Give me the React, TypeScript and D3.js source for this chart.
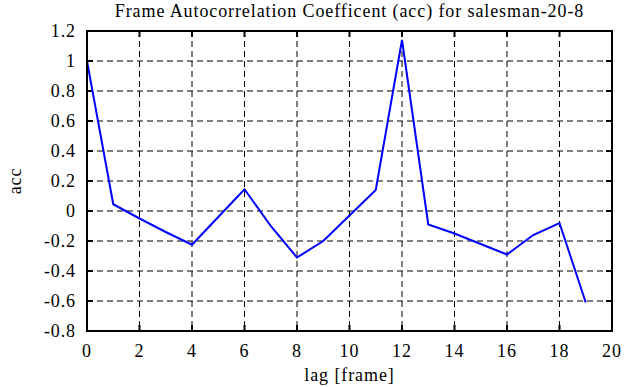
import React from "react";
import * as d3 from "d3";

const lags = [0, 1, 2, 3, 4, 5, 6, 7, 8, 9, 10, 11, 12, 13, 14, 15, 16, 17, 18, 19];
const accValues = [1.0, 0.045, -0.05, -0.14, -0.225, -0.04, 0.145, -0.1, -0.31, -0.2, -0.03, 0.14, 1.14, -0.09, -0.15, -0.22, -0.29, -0.16, -0.08, -0.61];
const xTicks = [0, 2, 4, 6, 8, 10, 12, 14, 16, 18, 20];
const yTicks = [-0.8, -0.6, -0.4, -0.2, 0, 0.2, 0.4, 0.6, 0.8, 1, 1.2];
const title = "Frame Autocorrelation Coefficent (acc) for salesman-20-8";
const xLabel = "lag [frame]";
const yLabel = "acc";

export default function App() {
  const W = 641, H = 387;
  const L = 87, R = 612, T = 31, B = 331;
  const x = d3.scaleLinear().domain([0, 20]).range([L, R]);
  const y = d3.scaleLinear().domain([-0.8, 1.2]).range([B, T]);
  const line = d3.line<number>().x((_, i) => x(lags[i])).y((d) => y(d));
  const ts: React.CSSProperties = { fontFamily: "'Liberation Serif', 'DejaVu Serif', serif", fontSize: 18, letterSpacing: 0.9 };
  return (
    <svg width={W} height={H} style={{ position: "absolute", left: 0, top: 0, background: "#fff" }}>
      <rect x={0} y={0} width={W} height={H} fill="#fff" />
      <text x={(L + R) / 2} y={17} textAnchor="middle" style={ts}>{title}</text>
      {xTicks.slice(1, -1).map((t) => (
        <line key={"gx" + t} x1={x(t)} x2={x(t)} y1={T} y2={B} stroke="#000" strokeWidth={1} strokeDasharray="6,4" />
      ))}
      {yTicks.slice(1, -1).map((t) => (
        <line key={"gy" + t} x1={L} x2={R} y1={y(t)} y2={y(t)} stroke="#000" strokeWidth={1} strokeDasharray="6,4" />
      ))}
      {xTicks.map((t) => (
        <g key={"tx" + t}>
          <line x1={x(t)} x2={x(t)} y1={B} y2={B - 6} stroke="#000" strokeWidth={2} />
          <line x1={x(t)} x2={x(t)} y1={T} y2={T + 6} stroke="#000" strokeWidth={2} />
          <text x={x(t)} y={357} textAnchor="middle" style={ts}>{t}</text>
        </g>
      ))}
      {yTicks.map((t) => (
        <g key={"ty" + t}>
          <line x1={L} x2={L + 6} y1={y(t)} y2={y(t)} stroke="#000" strokeWidth={2} />
          <line x1={R} x2={R - 6} y1={y(t)} y2={y(t)} stroke="#000" strokeWidth={2} />
          <text x={76} y={y(t) + 6} textAnchor="end" style={ts}>{t}</text>
        </g>
      ))}
      <path d={line(accValues) || ""} fill="none" stroke="#0000ff" strokeWidth={2} />
      <rect x={L} y={T} width={R - L} height={B - T} fill="none" stroke="#000" strokeWidth={2} />
      <text x={(L + R) / 2} y={381} textAnchor="middle" style={ts}>{xLabel}</text>
      <text transform={`translate(21,${(T + B) / 2}) rotate(-90)`} textAnchor="middle" style={ts}>{yLabel}</text>
    </svg>
  );
}
